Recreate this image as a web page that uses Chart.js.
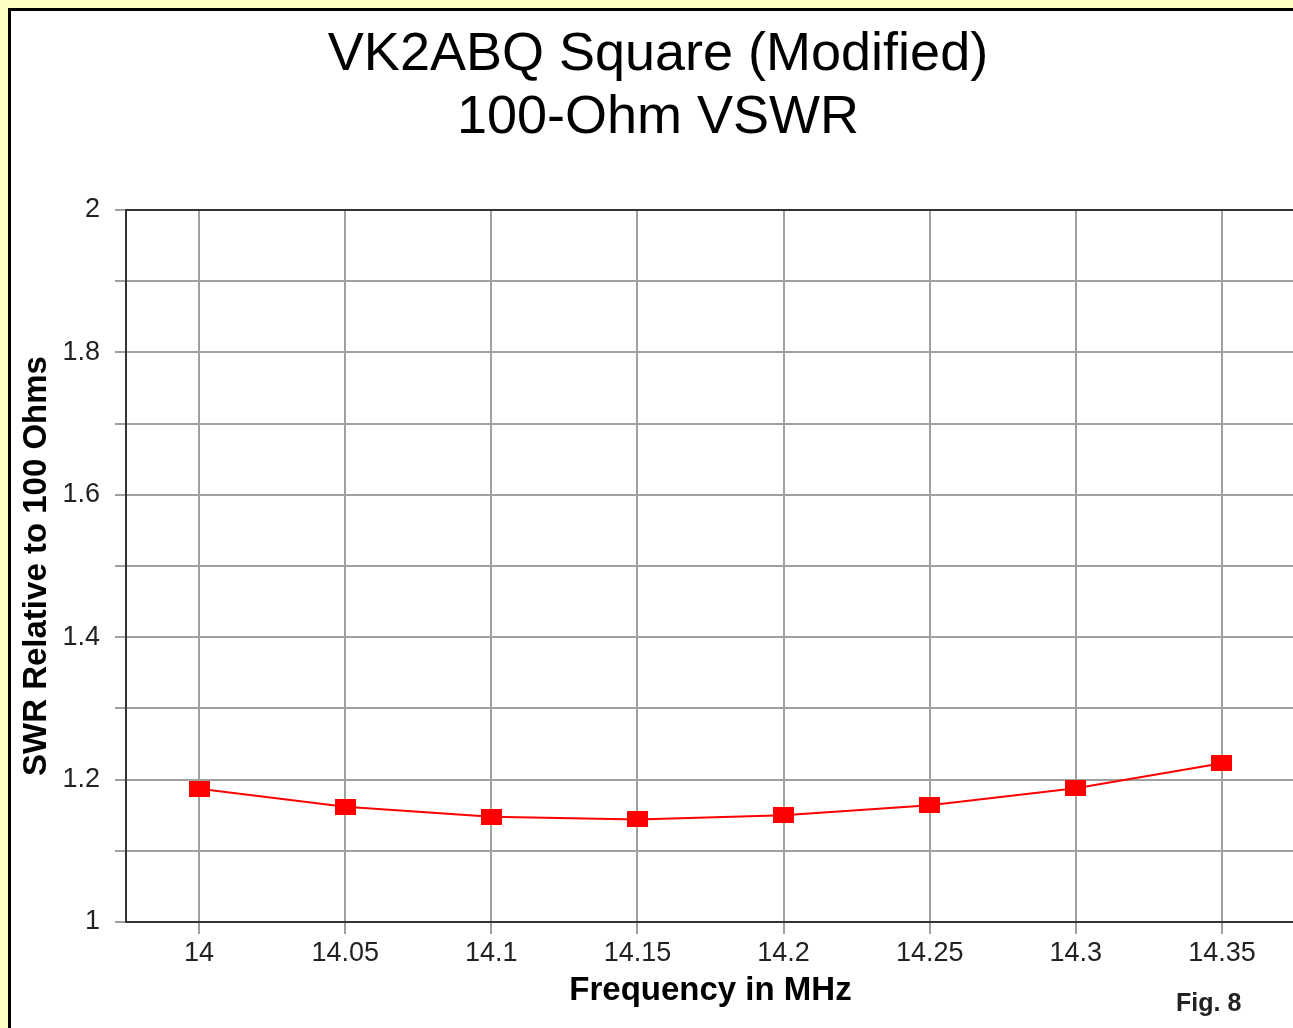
<!DOCTYPE html>
<html lang="en">
<head>
    <meta charset="UTF-8">
    <title>VK2ABQ Square (Modified) - 100-Ohm VSWR</title>
    <script src="https://cdn.jsdelivr.net/npm/chart.js"></script>
    <style>
        html, body { margin: 0; padding: 0; overflow: hidden; }
        body { background: #ffffc4; width: 1293px; height: 1028px; position: relative; }
        #frame {
            position: absolute; left: 8px; top: 8px; width: 1300px; height: 1030px;
            background: #fff; border-left: 3px solid #000; border-top: 3px solid #000;
        }
        #chart { position: absolute; left: 0; top: 0; }
        #fig {
            position: absolute; left: 1176px; top: 988px;
            font: bold 25px "Liberation Sans", Arial, sans-serif; color: #222;
        }
    </style>
</head>
<body>
    <div id="frame">
        <canvas id="chart" width="1294" height="1017"></canvas>
    </div>
    <div id="fig">Fig. 8</div>

    <script>
        // data
        const freqLabels = ['14', '14.05', '14.1', '14.15', '14.2', '14.25', '14.3', '14.35'];
        const swrValues = [1.187, 1.162, 1.148, 1.144, 1.150, 1.164, 1.188, 1.223];
        const yTickLabels = ['1', '1.2', '1.4', '1.6', '1.8', '2'];

        const FONT = '"Liberation Sans", Arial, sans-serif';

        // wide flat red marker like the original
        const marker = document.createElement('canvas');
        marker.width = 21;
        marker.height = 16;
        const mctx = marker.getContext('2d');
        mctx.fillStyle = '#ff0000';
        mctx.fillRect(0, 0, 21, 16);

        const ctx = document.getElementById('chart').getContext('2d');
        new Chart(ctx, {
            type: 'line',
            data: {
                labels: freqLabels,
                datasets: [{
                    data: swrValues,
                    borderColor: '#ff0000',
                    borderWidth: 2,
                    pointStyle: marker,
                    tension: 0
                }]
            },
            options: {
                responsive: false,
                animation: false,
                layout: { padding: { top: 0, right: 10, bottom: 0, left: 10 } },
                plugins: {
                    legend: { display: false },
                    tooltip: { enabled: false },
                    title: {
                        display: true,
                        text: ['VK2ABQ Square (Modified)', '100-Ohm VSWR'],
                        color: '#000',
                        font: { family: FONT, size: 54, weight: 'normal', lineHeight: 1.167 },
                        padding: { top: 13, bottom: 60 }
                    }
                },
                scales: {
                    x: {
                        type: 'category',
                        offset: true,
                        afterFit: s => { s.height = 106; },
                        grid: {
                            offset: false,
                            color: '#a0a0a0',
                            lineWidth: 2,
                            tickLength: 12
                        },
                        border: { color: '#333', width: 2 },
                        ticks: {
                            color: '#222',
                            padding: 3,
                            maxRotation: 0,
                            font: { family: FONT, size: 27 }
                        },
                        title: {
                            display: true,
                            text: 'Frequency in MHz',
                            color: '#000',
                            font: { family: FONT, size: 33, weight: 'bold' },
                            padding: { top: 0, bottom: 17 }
                        }
                    },
                    y: {
                        min: 1,
                        max: 2,
                        afterFit: s => { s.width = 105; },
                        grid: {
                            color: c => (c.tick && c.tick.value === 2 ? '#333' : '#a0a0a0'),
                            lineWidth: 2,
                            tickLength: 11,
                            tickColor: '#a0a0a0'
                        },
                        border: { color: '#333', width: 2 },
                        ticks: {
                            stepSize: 0.1,
                            color: '#222',
                            padding: 15,
                            font: { family: FONT, size: 27 },
                            callback: v => {
                                const t = String(+Number(v).toFixed(1));
                                return yTickLabels.includes(t) ? t : '';
                            }
                        },
                        title: {
                            display: true,
                            text: 'SWR Relative to 100 Ohms',
                            color: '#000',
                            font: { family: FONT, size: 33, weight: 'bold' },
                            padding: { top: -4, bottom: 0 }
                        }
                    }
                }
            }
        });
    </script>
</body>
</html>
